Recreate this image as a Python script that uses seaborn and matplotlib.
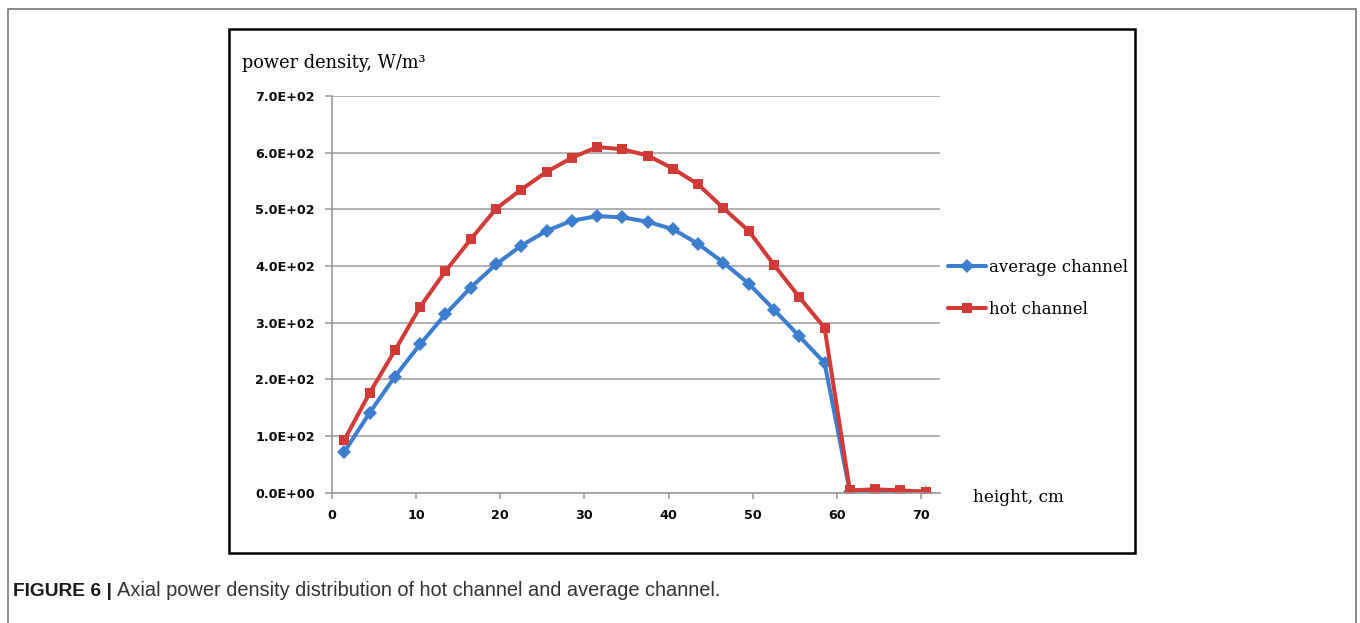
import numpy as np
import pandas as pd
import matplotlib
matplotlib.use("Agg")
import matplotlib.pyplot as plt
from matplotlib.lines import Line2D
from matplotlib.patches import Rectangle
import seaborn as sns

# Axial positions (cm) and power density (W/m^3) for the two channels
height_cm = [1.5, 4.5, 7.5, 10.5, 13.5, 16.5, 19.5, 22.5, 25.5, 28.5, 31.5, 34.5,
             37.5, 40.5, 43.5, 46.5, 49.5, 52.5, 55.5, 58.5, 61.5, 64.5, 67.5, 70.5]
average_channel = [72, 141, 205, 262, 315, 362, 403, 436, 462, 480, 488, 486,
                   478, 465, 439, 406, 369, 323, 276, 229, 2, 3, 1, 0]
hot_channel = [93, 176, 251, 328, 391, 447, 501, 535, 566, 591, 610, 606,
               595, 572, 544, 502, 462, 402, 345, 291, 4, 6, 4, 2]

series_names = ["average channel", "hot channel"]
y_ticks = [0, 100, 200, 300, 400, 500, 600, 700]
y_tick_labels = ["0.0E+00", "1.0E+02", "2.0E+02", "3.0E+02",
                 "4.0E+02", "5.0E+02", "6.0E+02", "7.0E+02"]
x_ticks = [0, 10, 20, 30, 40, 50, 60, 70]

df = pd.DataFrame({
    "height": height_cm * 2,
    "power": average_channel + hot_channel,
    "channel": [series_names[0]] * len(height_cm) + [series_names[1]] * len(height_cm),
})

sns.set_theme(style="white")
plt.rcParams["font.family"] = ["DejaVu Sans"]

W, H = 1360, 623
fig = plt.figure(figsize=(W / 100, H / 100), dpi=100)
ax = fig.add_axes([331.7 / W, 1 - 492.7 / H, (940 - 331.7) / W, (492.7 - 96) / H])

palette = {"average channel": "#3B7DCF", "hot channel": "#D23A36"}
markers = {"average channel": "D", "hot channel": "s"}
line_w = 2.9
marker_sz = 7.2

sns.lineplot(data=df, x="height", y="power", hue="channel", style="channel",
             hue_order=series_names, style_order=series_names,
             palette=palette, markers=markers, dashes=False,
             linewidth=line_w, markersize=marker_sz, markeredgewidth=0,
             ax=ax, legend=True)

ax.set_xlim(0, 72.2)
ax.set_ylim(0, 700)
ax.set_xticks(x_ticks)
ax.set_xticklabels([str(v) for v in x_ticks])
ax.set_yticks(y_ticks)
ax.set_yticklabels(y_tick_labels)
ax.set_xlabel("")
ax.set_ylabel("")

ax.yaxis.grid(True, color="#a3a3a3", linewidth=1.2)
ax.xaxis.grid(False)
ax.set_axisbelow(True)
for side in ("top", "right"):
    ax.spines[side].set_visible(False)
for side in ("left", "bottom"):
    ax.spines[side].set_color("#999999")
    ax.spines[side].set_linewidth(1.2)

ax.tick_params(axis="y", direction="out", length=5, width=1.1, color="#999999",
               pad=7, labelsize=9.2, left=True)
ax.tick_params(axis="x", direction="out", length=4.5, width=1.1, color="#999999",
               pad=7, labelsize=9.2, bottom=True)
for lab in ax.get_xticklabels() + ax.get_yticklabels():
    lab.set_fontweight("bold")
    lab.set_color("#0a0a0a")

# Legend to the right of the plot area
handles, labels = ax.get_legend_handles_labels()
for h in handles:
    h.set_linewidth(line_w)
    h.set_markersize(marker_sz)
    h.set_markeredgewidth(0)
leg = ax.legend(handles, labels, loc="center left",
                bbox_to_anchor=(948 / W, 1 - 288.5 / H),
                bbox_transform=fig.transFigure, frameon=False,
                numpoints=1, handlelength=2.3, handletextpad=0.15,
                labelspacing=1.5, borderpad=0, borderaxespad=0,
                prop={"family": "DejaVu Serif", "size": 12})
for t in leg.get_texts():
    t.set_color("#000000")

# Axis titles
fig.text(242 / W, 1 - 68 / H, "power density, W/m³", family="DejaVu Serif",
         size=12.8, color="#000000", ha="left", va="baseline")
fig.text(973 / W, 1 - 498 / H, "height, cm", family="DejaVu Serif",
         size=12.2, color="#000000", ha="left", va="center")

# Chart frame and outer panel border
fig.patches.append(Rectangle((229 / W, 1 - 553 / H), (1135 - 229) / W, (553 - 29) / H,
                             transform=fig.transFigure, fill=False,
                             edgecolor="#000000", linewidth=1.8))
fig.lines.append(Line2D([8 / W, 8 / W, 1356 / W, 1356 / W],
                        [0, 1 - 9 / H, 1 - 9 / H, 0],
                        transform=fig.transFigure, color="#808080", linewidth=1.3))

# Caption
cap_y = 1 - 596 / H
t1 = fig.text(13 / W, cap_y, "FIGURE 6 |", family="Liberation Sans",
              weight="bold", size=13.8, color="#1a1a1a", va="baseline")
fig.canvas.draw()
bb = t1.get_window_extent(renderer=fig.canvas.get_renderer())
fig.text((bb.x1 + 5) / W, cap_y,
         "Axial power density distribution of hot channel and average channel.",
         family="Liberation Sans", size=14.4, color="#333333", va="baseline")

fig.savefig("out.png", dpi=100)
